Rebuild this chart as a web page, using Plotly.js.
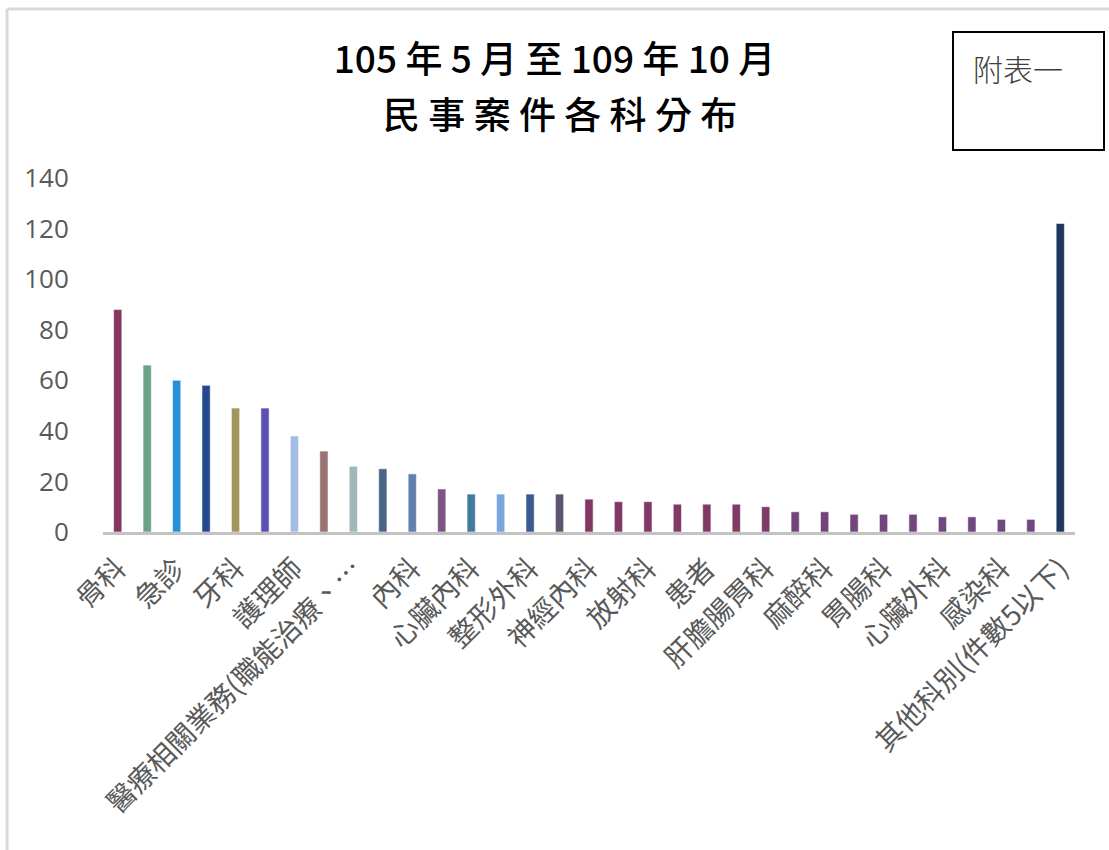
<!DOCTYPE html>
<html>
<head>
<meta charset="utf-8">
<script src="https://cdn.plot.ly/plotly-3.0.1.min.js"></script>
<style>
html,body{margin:0;padding:0;background:#fff;}
#chart{width:1109px;height:850px;}
</style>
</head>
<body>
<div id="chart"></div>
<script>
// Tick labels (every other category is labelled in the original)
const tickLabels = ["骨科","急診","牙科","護理師","醫療相關業務(職能治療、…","內科","心臟內科","整形外科","神經內科","放射科","患者","肝膽腸胃科","麻醉科","胃腸科","心臟外科","感染科","其他科別(件數5以下)"];
// Case counts for the 33 bars, left to right
const counts = [88,66,60,58,49,49,38,32,26,25,23,17,15,15,15,15,13,12,12,11,11,11,10,8,8,7,7,7,6,6,5,5,122];
const barColors = ["#86365f","#6aa386","#2490db","#25498f","#a3955b","#5b50b3","#a3bde6","#9b7272","#9fb8ba","#4a6585","#6180b0","#7d5585","#3f7b9a","#78a5de","#3a5b90","#605570",
  "#833763","#823865","#823865","#803a66","#803a66","#803a66","#7e3b68",
  "#72447a","#72447a","#70467c","#70467c","#70467c","#6e487e","#6e487e","#6d4980","#6d4980","#213760"];
const titleLine1 = "105 年 5 月 至 109 年 10 月";
const titleLine2 = "民 事 案 件 各 科 分 布";
const boxText = "附表一";

const xIdx = counts.map((_, i) => i);
const tickIdx = tickLabels.map((_, i) => i * 2);

const trace = {
  type: "bar",
  x: xIdx,
  y: counts,
  marker: {color: barColors, line: {color: "rgba(255,255,255,0.55)", width: 1}},
  hoverinfo: "y"
};

const W = 972, H = 354, L = 103, T = 178;
function px(x){ return (x - L) / W; }
function py(y){ return (T + H - y) / H; }

const titleFont = {family: "'Noto Sans CJK TC', sans-serif", size: 37, color: "#000", weight: 500};

const layout = {
  width: 1109, height: 850,
  margin: {l: L, r: 34, t: T, b: 318},
  paper_bgcolor: "#fff", plot_bgcolor: "#fff",
  showlegend: false,
  bargap: 0.72,
  font: {family: "'Noto Sans CJK TC', 'Noto Sans', sans-serif", color: "#595959"},
  title: {
    text: titleLine1,
    x: 0.5, xanchor: "center", xref: "container",
    y: 1 - 60 / 850, yanchor: "middle", yref: "container",
    font: titleFont
  },
  xaxis: {
    type: "linear",
    range: [-0.5, counts.length - 0.5],
    tickmode: "array", tickvals: tickIdx, ticktext: tickLabels,
    tickangle: -45,
    tickfont: {size: 28, color: "#595959", family: "'Noto Sans CJK TC', sans-serif"},
    showgrid: false, zeroline: false,
    showline: true, linecolor: "#c3c3c3", linewidth: 3,
    ticks: "outside", ticklen: 6, tickcolor: "rgba(0,0,0,0)",
    fixedrange: true
  },
  yaxis: {
    range: [0, 140],
    tickvals: [0,20,40,60,80,100,120,140],
    tickfont: {size: 26, color: "#595959", family: "'Open Sans', 'Liberation Sans', sans-serif"},
    showgrid: false, zeroline: false, showline: false,
    ticks: "outside", ticklen: 28, tickcolor: "rgba(0,0,0,0)",
    fixedrange: true
  },
  shapes: [
    {type: "line", xref: "paper", yref: "paper", x0: px(7), x1: px(1109), y0: py(9), y1: py(9), line: {color: "#d9d9d9", width: 3}},
    {type: "line", xref: "paper", yref: "paper", x0: px(7), x1: px(7), y0: py(9), y1: py(850), line: {color: "#d9d9d9", width: 3}},
    {type: "rect", xref: "paper", yref: "paper", x0: px(953), x1: px(1104), y0: py(150), y1: py(32), line: {color: "#000", width: 2}, fillcolor: "rgba(0,0,0,0)"}
  ],
  annotations: [
    {text: titleLine2, xref: "paper", yref: "paper", x: px(560), y: py(113), xanchor: "center", yanchor: "middle", showarrow: false,
     font: titleFont},
    {text: boxText, xref: "paper", yref: "paper", x: px(971), y: py(68), xanchor: "left", yanchor: "middle", showarrow: false,
     font: {size: 30, color: "#404040", family: "'Noto Sans CJK TC', sans-serif", weight: 300}}
  ]
};

Plotly.newPlot("chart", [trace], layout, {displayModeBar: false, staticPlot: true});
</script>
</body>
</html>
